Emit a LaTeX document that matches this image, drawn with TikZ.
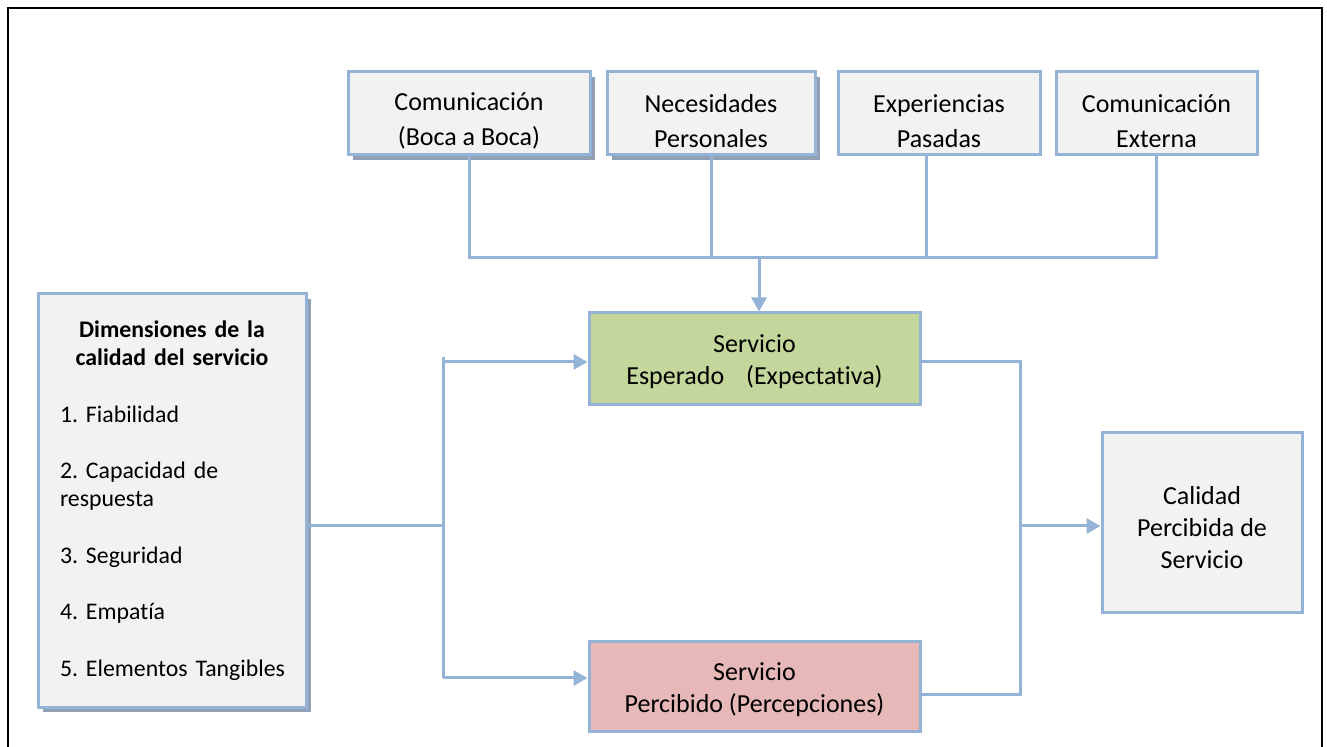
\documentclass[tikz,border=0pt]{standalone}
\usepackage{fontspec}
\setmainfont{Carlito}[Ligatures=NoCommon]
\usetikzlibrary{arrows.meta,shadows}
\definecolor{boxline}{RGB}{149,179,215}
\definecolor{boxgray}{RGB}{242,242,242}
\definecolor{boxgreen}{RGB}{195,214,155}
\definecolor{boxred}{RGB}{230,185,184}
\definecolor{boxshadow}{RGB}{146,160,181}
\newcommand{\upstrut}[1]{\rule{0pt}{#1}}

\begin{document}
\begin{tikzpicture}[x=0.5pt,y=-0.5pt,>={Triangle[length=7pt,width=7.5pt]}]
    \tikzstyle{every node}=[draw=boxline,line width=1.5pt,fill=boxgray,inner sep=0pt,align=center,font=\fontsize{13}{16}\selectfont];
    \tikzstyle{conn}=[draw=boxline,line width=1.5pt];
    \tikzstyle{shade box}=[drop shadow={shadow xshift=2.5pt,shadow yshift=-2.5pt,fill=boxshadow,opacity=1}];
    \tikzstyle{top box}=[minimum height=41.5pt,font=\fontsize{13}{17.5}\selectfont];
    \useasboundingbox (0,0) rectangle (1327,747);
    \draw[black,line width=1.2pt] (8,747) -- (8,8) -- (1322,8) -- (1322,747);

    \node at (469,113.5)    (boca)  [top box,shade box,minimum width=121pt] {\upstrut{16.5pt}Comunicación\\(Boca a Boca)};
    \node at (711,113.5)    (neces) [top box,shade box,minimum width=104pt] {\upstrut{16.5pt}Necesidades\\Personales};
    \node at (939,113.5)    (exper) [top box,minimum width=101pt] {\upstrut{16.5pt}Experiencias\\Pasadas};
    \node at (1156.5,113.5) (exter) [top box,minimum width=100.5pt] {\upstrut{16.5pt}Comunicación\\Externa};
    \node at (754.5,359)    (esp)   [fill=boxgreen,minimum width=165.5pt,minimum height=46pt] {\upstrut{12pt}Servicio\\Esperado\hspace{11pt}(Expectativa)};
    \node at (754.5,686.5)  (perc)  [fill=boxred,minimum width=165.5pt,minimum height=44.5pt] {\upstrut{12pt}Servicio\\Percibido (Percepciones)};
    \node at (1202,523)     (cal)   [minimum width=100pt,minimum height=90pt] {\upstrut{14pt}Calidad\\Percibida de\\Servicio};
    \node at (172,500.5)    (dims)  [shade box,minimum width=134pt,minimum height=206.5pt,text width=112pt,align=left,font=\fontsize{11.9}{14.1}\selectfont]
      {\frenchspacing\hyphenpenalty=10000\relax
       \makebox[112pt]{\bfseries Dimensiones de la}\\
       \makebox[112pt]{\bfseries calidad del servicio}\\[14.1pt]
       1. Fiabilidad\\[14.1pt]
       2. Capacidad de\\
       respuesta\\[14.1pt]
       3. Seguridad\\[14.1pt]
       4. Empatía\\[14.1pt]
       \mbox{5. Elementos Tangibles}\par\vspace{18pt}};

    \coordinate (bus)   at (759,258);
    \coordinate (split) at (443,526);
    \coordinate (up)    at (443,362);
    \coordinate (down)  at (443,678);
    \coordinate (jA)    at (1020,362);
    \coordinate (jB)    at (1020,694);
    \coordinate (merge) at (1020,526);

    \draw[conn] (boca.south) |- (exter.south |- bus) -- (exter.south);
    \draw[conn] (neces.south) -- (neces.south |- bus);
    \draw[conn] ([xshift=-6.5pt]exper.south) -- ([xshift=-6.5pt]exper.south |- bus);
    \draw[conn,->] (bus) -- (bus |- esp.north);
    \draw[conn] (dims.east |- split) -- (split);
    \draw[conn] ([yshift=2.5pt]up) -- (down);
    \draw[conn,->] (up) -- (up -| esp.west);
    \draw[conn,->] (down) -- (down -| perc.west);
    \draw[conn] (esp.east |- jA) -- (jA) -- (jB) -- (perc.east |- jB);
    \draw[conn,->] (merge) -- (merge -| cal.west);
\end{tikzpicture}
\end{document}
